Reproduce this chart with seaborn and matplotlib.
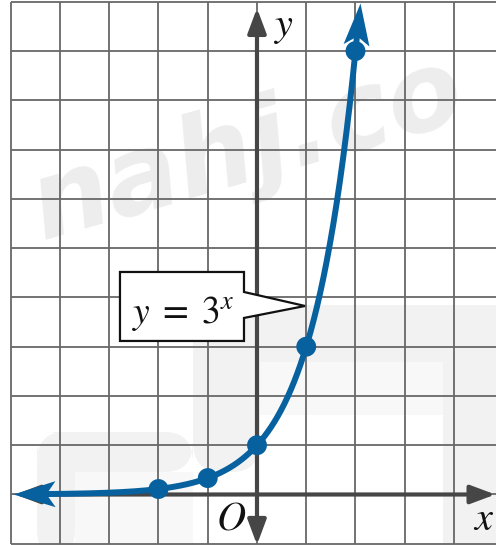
import numpy as np
import pandas as pd
import matplotlib
matplotlib.use("Agg")
import matplotlib.pyplot as plt
import seaborn as sns
from matplotlib.path import Path
from matplotlib.markers import MarkerStyle
from matplotlib.transforms import Affine2D
from matplotlib.patches import Polygon, FancyBboxPatch

# Exponential function y = base^x with its integer sample points
base = 3
point_x = [-2, -1, 0, 1, 2]
point_y = [1 / 9, 1 / 3, 1, 3, 9]
grid_x = list(range(-5, 5))
grid_y = list(range(-1, 11))
curve_label = r"$y\;=\;3^{x}$"
x_label = r"$x$"
y_label = r"$y$"
origin_label = r"$O$"
watermark = "nahj.co"

sns.set_theme(style="white")
plt.rcParams["mathtext.fontset"] = "stix"
plt.rcParams["font.family"] = ["DejaVu Sans"]

BLUE = "#07619f"
AXIS = "#464646"
GRID = "#686868"

W, H = 496, 545
fig = plt.figure(figsize=(W / 100, H / 100), dpi=100)
ax = fig.add_axes([0, 0, 1, 1])
ax.set_xlim(-5.218, 4.853)
ax.set_ylim(-1.025, 10.036)
ax.axis("off")

# light background logo blocks, placed in figure pixels (origin top-left)
def px_box(x0, y0, x1, y1, color, r=0):
    fx0, fx1 = x0 / W, x1 / W
    fy0, fy1 = 1 - y1 / H, 1 - y0 / H
    patch = FancyBboxPatch((fx0, fy0), fx1 - fx0, fy1 - fy0,
                           boxstyle=f"round,pad=0,rounding_size={r / W}",
                           transform=fig.transFigure, facecolor=color,
                           edgecolor="none", zorder=0.1)
    ax.add_patch(patch)


BAND = "#f2f2f2"
INNER = "#f8f8f8"
px_box(260, 362, 443, 415, INNER)
px_box(75, 472, 193, 560, INNER)
px_box(193, 305, 520, 362, BAND, r=28)
px_box(443, 305, 520, 560, BAND)
px_box(193, 305, 260, 472, BAND, r=28)
px_box(37, 432, 193, 472, BAND, r=28)
px_box(37, 432, 75, 560, BAND, r=28)

# faint watermark
ax.text(-0.18, 6.99, watermark, fontsize=78, fontweight="bold", style="italic",
        color="#ededed", rotation=16, ha="center", va="center", zorder=0.2)

# square grid
ax.vlines(grid_x, grid_y[0], grid_y[-1], colors=GRID, lw=1.3, zorder=1)
ax.hlines(grid_y, grid_x[0], ax.get_xlim()[1], colors=GRID, lw=1.3, zorder=1)

# coordinate axes with arrowheads at both ends
axis_style = dict(arrowstyle="<|-|>,head_length=0.75,head_width=0.28",
                  color=AXIS, lw=3.0, shrinkA=0, shrinkB=0, mutation_scale=20)
ax.annotate("", xy=(4.84, 0), xytext=(-4.91, 0), arrowprops=axis_style, zorder=2)
ax.annotate("", xy=(0, 9.87), xytext=(0, -1.02), arrowprops=axis_style, zorder=2)

# callout box for the function label
callout = Polygon([(-2.782, 4.516), (-0.264, 4.516), (-0.264, 4.110),
                   (0.975, 3.826), (-0.264, 3.583), (-0.264, 3.116),
                   (-2.782, 3.116)], closed=True, facecolor="white",
                  edgecolor="#111111", lw=1.6, joinstyle="miter", zorder=3)
ax.add_patch(callout)
ax.text(-1.51, 3.479, curve_label, fontsize=27, ha="center", va="baseline",
        color="#111111", zorder=6)

# the curve itself
x_left = -4.96
x_top = np.log(9.98) / np.log(base)
xs = np.linspace(x_left + 0.4, x_top - 0.03, 400)
curve = pd.DataFrame({"x": xs, "y": base ** xs})
sns.lineplot(data=curve, x="x", y="y", color=BLUE, lw=4.3, ax=ax, sort=False,
             zorder=4, solid_capstyle="butt")

# arrowheads at both ends of the curve, aligned with its direction
head = Path([(0, 0), (-42, 13), (-33, 0), (-42, -13), (0, 0)],
            [Path.MOVETO, Path.LINETO, Path.LINETO, Path.LINETO, Path.CLOSEPOLY])


def end_angle(x_tip, x_back):
    p_tip = ax.transData.transform((x_tip, base ** x_tip))
    p_back = ax.transData.transform((x_back, base ** x_back))
    d = p_tip - p_back
    return np.degrees(np.arctan2(d[1], d[0]))


for x_tip, x_back in [(x_top, x_top - 0.08), (x_left, x_left + 0.8)]:
    marker = MarkerStyle(head, transform=Affine2D().rotate_deg(end_angle(x_tip, x_back)))
    ax.plot([x_tip], [base ** x_tip], marker=marker, markersize=60.5,
            color=BLUE, markeredgewidth=0, linestyle="none", zorder=4.5)

# sample points
sns.scatterplot(x=point_x, y=point_y, s=205, color=BLUE, edgecolor="none",
                ax=ax, zorder=5)

# axis labels
label_kw = dict(fontsize=29, ha="center", va="baseline", color="#111111", zorder=6)
ax.text(0.548, 9.30, y_label, **label_kw)
ax.text(4.59, -0.72, x_label, **label_kw)
ax.text(-0.53, -0.72, origin_label, **label_kw)

fig.savefig("out.png", dpi=100)
